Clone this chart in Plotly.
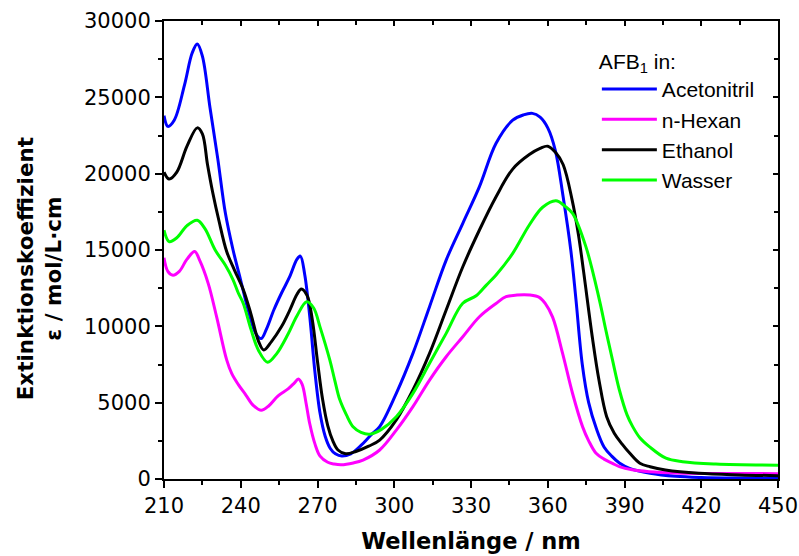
import plotly.graph_objects as go

# ---------------- data ----------------
wl_acn = [210, 211.5, 214, 218, 221, 223, 225, 228, 231, 234, 237, 240, 243, 246, 248,
          250, 253, 256, 259, 262, 263.3, 265, 267, 269, 271, 273, 275, 277, 279.5, 283,
          287, 291, 294.3, 300.8, 307.3, 313.8, 320.3, 326.8, 333.3, 339.8, 346.3, 350.5,
          354, 357, 360, 363, 366, 369, 371, 373.5, 376, 379, 382, 385, 388, 392, 400,
          410, 420, 435, 450]
eps_acn = [23800, 23100, 23500, 25800, 27900, 28500, 27700, 24300, 21000, 17400, 15000,
           13000, 11000, 9500, 9200, 9800, 11100, 12200, 13200, 14400, 14600, 13400, 10600,
           7000, 4300, 2800, 2000, 1650, 1500, 1650, 2200, 2900, 3430, 5610, 8230, 11290,
           14340, 16750, 19150, 21990, 23500, 23850, 23950, 23700, 23000, 21500, 18500,
           15000, 11800, 7500, 5000, 3300, 2100, 1500, 1050, 700, 380, 180, 100, 60, 50]

wl_hex = [210, 211.5, 213.5, 216, 219, 222, 224, 227.3, 230.6, 234.5, 236.5, 239, 242,
          245, 248, 251, 254.6, 258.5, 261, 262.5, 264, 265.5, 267, 269, 271, 274, 276.5,
          279.3, 284, 287.8, 294.3, 300.8, 307.3, 313.8, 320.3, 326.8, 333.3, 339.8, 343.7,
          348, 353, 356.7, 359, 361.9, 365.8, 369.7, 373.6, 376, 378.9, 382, 385.3, 388,
          393, 399.7, 410, 430, 450]
eps_hex = [14500, 13600, 13350, 13600, 14400, 14900, 14300, 12800, 10600, 7800, 6900,
           6200, 5500, 4800, 4500, 4800, 5450, 5900, 6300, 6550, 6200, 5000, 3600, 2300,
           1500, 1100, 980, 930, 1050, 1240, 1900, 3200, 4740, 6480, 8010, 9320, 10630,
           11500, 11940, 12050, 12050, 11900, 11500, 10600, 8230, 5600, 3430, 2500, 1680,
           1300, 1030, 810, 600, 480, 400, 360, 350]

wl_eth = [210, 212, 215, 219, 223, 225, 227, 229, 231.5, 234.5, 237.5, 241, 244, 247,
          249, 252, 256, 259, 262, 263.7, 266, 268, 270, 272, 274, 276, 278, 281, 285,
          290, 294.3, 300.8, 307.3, 313.8, 320.3, 326.8, 333.3, 339.8, 346.3, 352.8, 357,
          360, 363, 366, 369.5, 372, 374, 377.5, 380, 383, 386, 389, 392, 396, 400, 406,
          419, 435, 450]
eps_eth = [20100, 19650, 20100, 21800, 23000, 22600, 20600, 18800, 16900, 14900, 13700,
           12400, 10800, 9000, 8450, 9000, 10000, 11000, 12100, 12450, 12000, 10400, 7700,
           5200, 3500, 2500, 1900, 1650, 1800, 2150, 2550, 3870, 5830, 8230, 11070, 13900,
           16310, 18490, 20300, 21250, 21650, 21800, 21400, 20600, 18300, 16000, 13600,
           9200, 6500, 4100, 3000, 2300, 1700, 1030, 800, 590, 370, 270, 220]

wl_h2o = [210, 212, 215, 219, 223, 226, 230, 234, 237, 239, 241, 244, 247, 250.5, 254,
          258.5, 262, 265.8, 268.5, 271, 274.8, 276.7, 278.7, 281.3, 284, 287, 290.4, 295,
          300.8, 307.3, 313.8, 320.3, 326.8, 332, 336, 339.8, 346.3, 352.8, 358, 363.2,
          366.5, 369.7, 374.9, 380.2, 382.7, 385.3, 388, 391, 393.2, 396, 399.7, 406.2,
          412.7, 425.7, 450]
eps_h2o = [16300, 15550, 15800, 16600, 16950, 16400, 15000, 14000, 13050, 12200, 11500,
           9800, 8400, 7650, 8200, 9500, 10700, 11610, 11200, 9950, 7800, 6500, 5200, 4200,
           3400, 3050, 2930, 3250, 4080, 5610, 7580, 9540, 11510, 12000, 12700, 13360,
           14780, 16640, 17800, 18230, 17900, 17400, 15220, 11720, 9760, 7800, 5830, 4200,
           3430, 2700, 2120, 1360, 1130, 980, 900]

series_names = ["Acetonitril", "n-Hexan", "Ethanol", "Wasser"]
series_x = [wl_acn, wl_hex, wl_eth, wl_h2o]
series_y = [eps_acn, eps_hex, eps_eth, eps_h2o]
series_colors = ["#0000FF", "#FF00FF", "#000000", "#00FF00"]

x_range = [210, 450]
y_range = [0, 30000]

# ---------------- figure ----------------
fig = go.Figure()
for name, xs, ys, col in zip(series_names, series_x, series_y, series_colors):
    fig.add_trace(go.Scatter(x=xs, y=ys, name=name, mode="lines",
                             line=dict(color=col, width=3, shape="spline", smoothing=1.0),
                             hoverinfo="x+y+name"))

# empty trace so the mirrored (inside-tick) top/right axes are drawn
fig.add_trace(go.Scatter(x=[], y=[], xaxis="x2", yaxis="y2", showlegend=False,
                         hoverinfo="skip"))

tick_font = dict(family="DejaVu Sans", size=21, color="black")

fig.update_layout(
    width=799, height=556,
    margin=dict(l=164, r=21, t=21, b=77, autoexpand=False),
    paper_bgcolor="white", plot_bgcolor="white",
    showlegend=True,
    legend=dict(
        x=0.705, y=0.955, xanchor="left", yanchor="top",
        bgcolor="rgba(0,0,0,0)", borderwidth=0, itemwidth=55,
        font=dict(family="Liberation Sans", size=21, color="black"),
        title=dict(text="AFB<sub>1</sub> in:",
                   font=dict(family="Liberation Sans", size=21, color="black")),
        tracegroupgap=0,
    ),
    xaxis=dict(
        range=x_range, tick0=210, dtick=30, ticks="outside", ticklen=7, tickwidth=2,
        tickcolor="black", showline=True, linewidth=2, linecolor="black",
        showgrid=False, zeroline=False, tickfont=tick_font,
        minor=dict(dtick=15, ticks="outside", ticklen=4, tickwidth=2, tickcolor="black",
                   showgrid=False),
        title=dict(text="<b>Wellenlänge / nm</b>",
                   font=dict(family="DejaVu Sans", size=22.5, color="black"), standoff=16),
        automargin=False,
    ),
    yaxis=dict(
        range=y_range, tick0=0, dtick=5000, ticks="outside", ticklen=7, tickwidth=2,
        tickcolor="black", showline=True, linewidth=2, linecolor="black",
        showgrid=False, zeroline=False, tickfont=tick_font, tickformat="d",
        minor=dict(dtick=2500, ticks="outside", ticklen=4, tickwidth=2, tickcolor="black",
                   showgrid=False),
        automargin=False,
    ),
    xaxis2=dict(
        overlaying="x", side="top", anchor="y", range=x_range, tick0=210, dtick=30,
        ticks="inside", ticklen=5, tickwidth=2, tickcolor="black",
        showticklabels=False, showline=True, linewidth=2, linecolor="black",
        showgrid=False, zeroline=False,
        minor=dict(dtick=15, ticks="inside", ticklen=4, tickwidth=2, tickcolor="black",
                   showgrid=False),
    ),
    yaxis2=dict(
        overlaying="y", side="right", anchor="x", range=y_range, tick0=0, dtick=5000,
        ticks="inside", ticklen=5, tickwidth=2, tickcolor="black",
        showticklabels=False, showline=True, linewidth=2, linecolor="black",
        showgrid=False, zeroline=False,
        minor=dict(dtick=2500, ticks="inside", ticklen=4, tickwidth=2, tickcolor="black",
                   showgrid=False),
    ),
    annotations=[dict(
        text="<b>Extinktionskoeffizient<br>ε / mol/L·cm</b>",
        xref="paper", yref="paper", x=-0.203, y=0.4585,
        xanchor="center", yanchor="middle", textangle=-90, showarrow=False,
        font=dict(family="DejaVu Sans", size=21.5, color="black"),
    )],
)

fig.write_html("out.html")
